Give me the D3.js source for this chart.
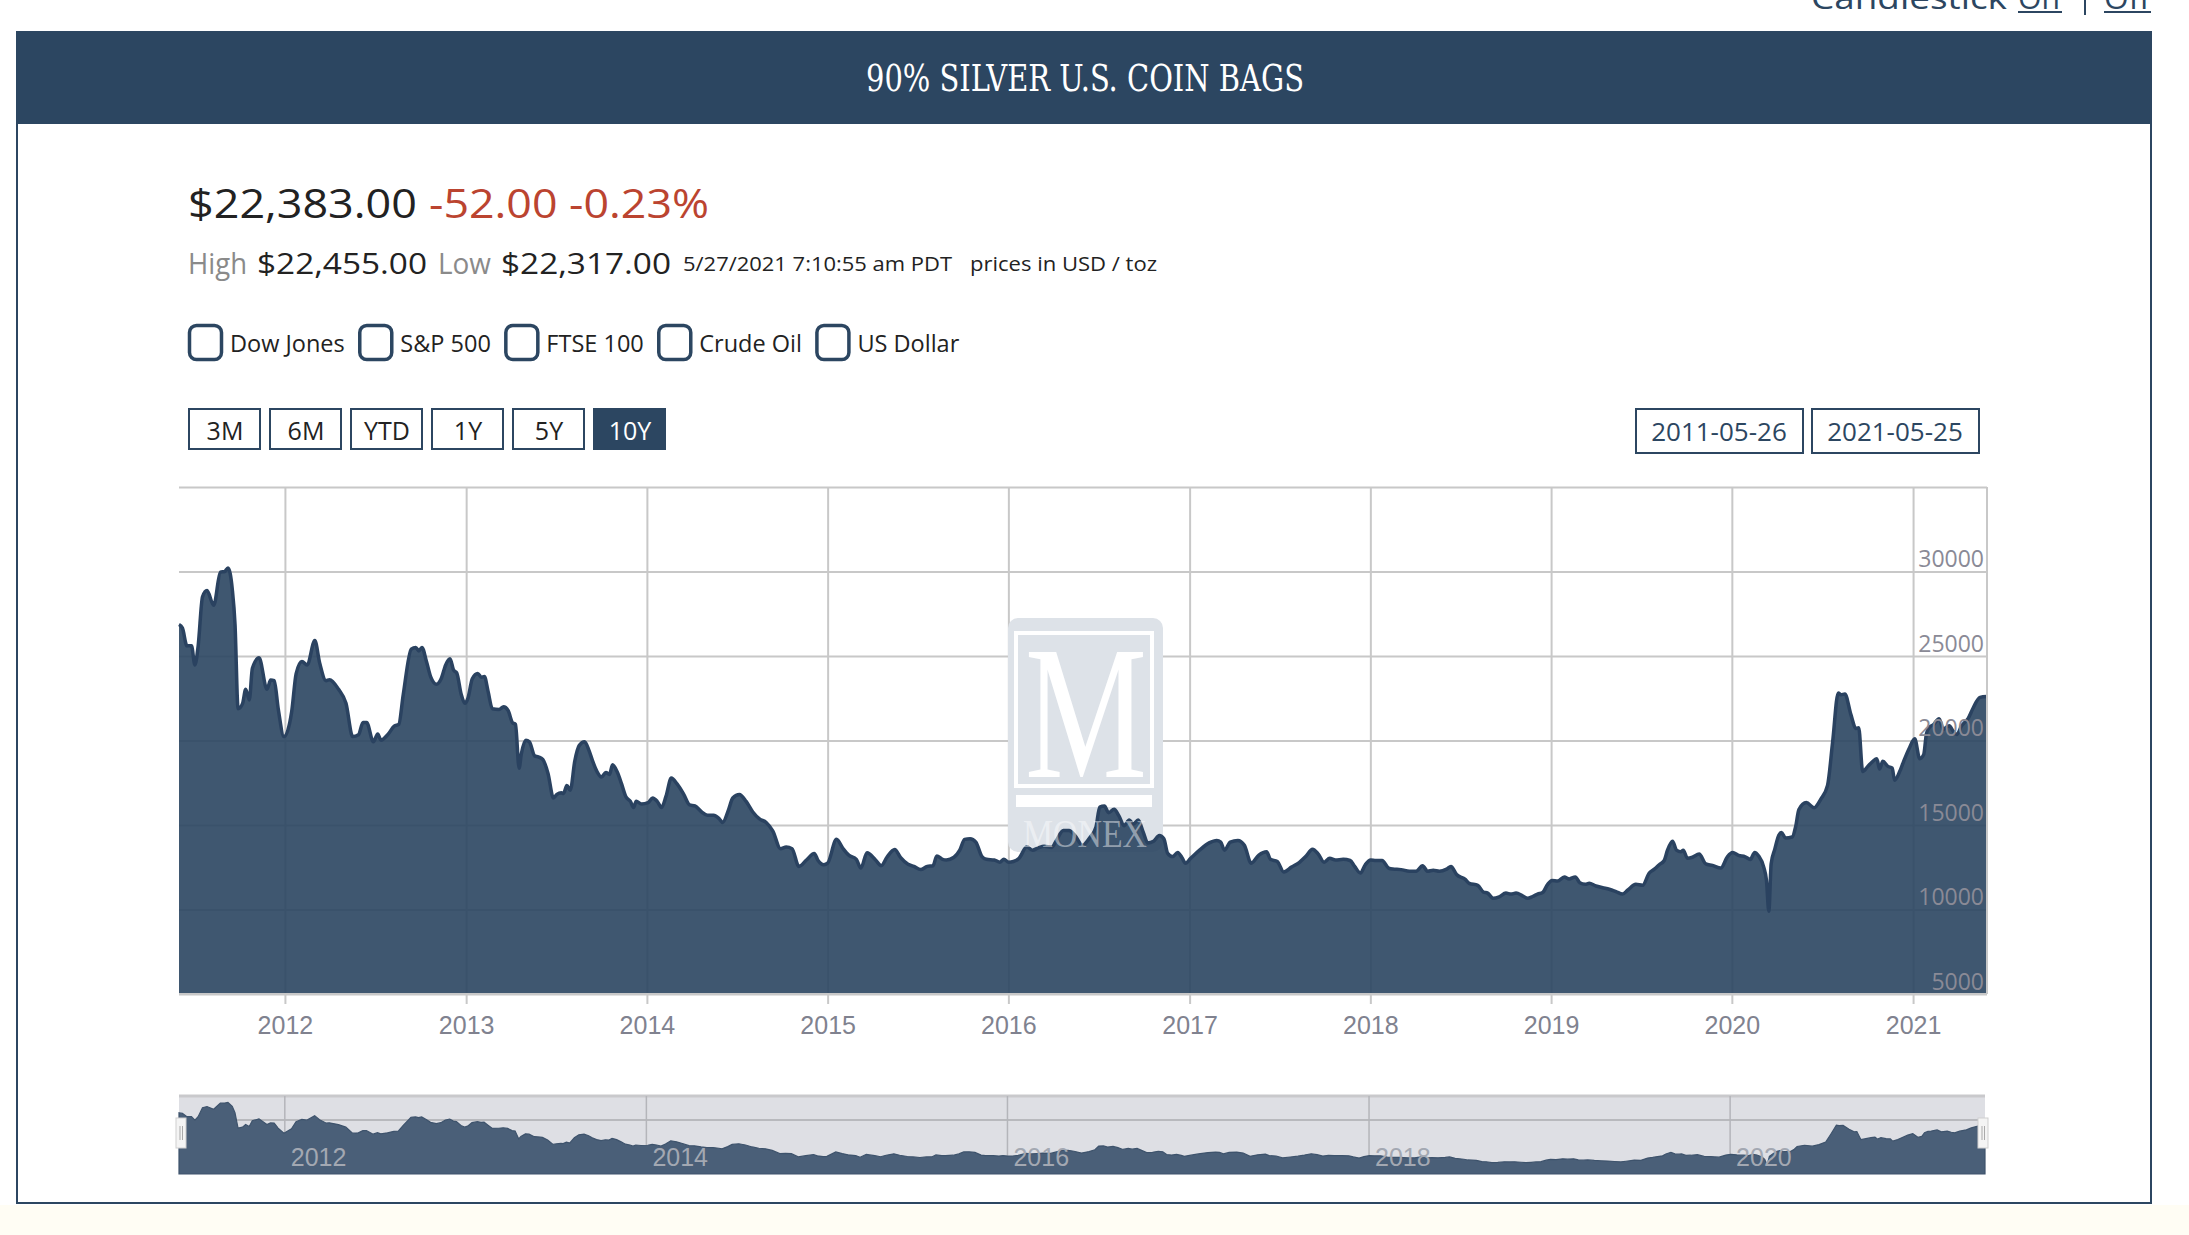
<!DOCTYPE html>
<meta charset="utf-8">
<style>
body {
  margin: 0;
  background: #fff;
  font-family: "Open Sans", sans-serif;
}
svg { display: block; }
.grid line { stroke: #c8c8c8; stroke-width: 2; }
.grid path { display: none; }
.xlabels path { display: none; }
.xlabels line { stroke: #c8c8c8; stroke-width: 2; }
.xlabels text { font-family: "Liberation Sans Narrow", sans-serif; font-size: 25px; fill: #80828f; }
.ylabels path, .ylabels line { display: none; }
.ylabels text { font-family: "Open Sans", sans-serif; font-size: 23px; fill: #8a8a96; }
</style>
<body>
<script src="https://cdn.jsdelivr.net/npm/d3@7"></script>
<script>

var width = 2189,
    height = 1235;

// price series (decimal year, USD per bag)
var years = [
  2011.414, 2011.433, 2011.458, 2011.483, 2011.502, 2011.520, 2011.544, 2011.569, 2011.606, 2011.643,
  2011.667, 2011.685, 2011.709, 2011.724, 2011.741, 2011.766, 2011.783, 2011.803, 2011.820, 2011.857,
  2011.901, 2011.921, 2011.941, 2011.963, 2011.995, 2012.037, 2012.062, 2012.094, 2012.123, 2012.165,
  2012.192, 2012.227, 2012.246, 2012.296, 2012.337, 2012.374, 2012.406, 2012.431, 2012.451, 2012.488,
  2012.512, 2012.530, 2012.567, 2012.603, 2012.628, 2012.653, 2012.697, 2012.722, 2012.739, 2012.756,
  2012.781, 2012.805, 2012.837, 2012.862, 2012.887, 2012.911, 2012.931, 2012.948, 2012.973, 2012.993,
  2013.010, 2013.034, 2013.064, 2013.084, 2013.101, 2013.121, 2013.145, 2013.182, 2013.207, 2013.232,
  2013.256, 2013.273, 2013.293, 2013.305, 2013.330, 2013.350, 2013.379, 2013.399, 2013.424, 2013.453,
  2013.483, 2013.502, 2013.527, 2013.539, 2013.557, 2013.576, 2013.601, 2013.626, 2013.655, 2013.680,
  2013.700, 2013.724, 2013.749, 2013.773, 2013.793, 2013.810, 2013.835, 2013.860, 2013.884, 2013.909,
  2013.926, 2013.941, 2013.970, 2014.007, 2014.032, 2014.057, 2014.081, 2014.106, 2014.135, 2014.167,
  2014.204, 2014.236, 2014.266, 2014.303, 2014.335, 2014.369, 2014.401, 2014.419, 2014.451, 2014.475,
  2014.512, 2014.549, 2014.586, 2014.623, 2014.660, 2014.697, 2014.739, 2014.771, 2014.803, 2014.841,
  2014.883, 2014.926, 2014.947, 2014.979, 2015.000, 2015.049, 2015.085, 2015.117, 2015.159, 2015.184,
  2015.218, 2015.265, 2015.297, 2015.328, 2015.371, 2015.403, 2015.445, 2015.477, 2015.515, 2015.551,
  2015.583, 2015.604, 2015.636, 2015.657, 2015.699, 2015.731, 2015.758, 2015.788, 2015.820, 2015.854,
  2015.879, 2015.922, 2015.953, 2015.975, 2016.002, 2016.028, 2016.059, 2016.102, 2016.133, 2016.165,
  2016.197, 2016.239, 2016.265, 2016.303, 2016.335, 2016.367, 2016.409, 2016.451, 2016.483, 2016.504,
  2016.530, 2016.553, 2016.583, 2016.610, 2016.638, 2016.667, 2016.689, 2016.716, 2016.744, 2016.769,
  2016.801, 2016.833, 2016.858, 2016.879, 2016.907, 2016.934, 2016.960, 2016.977, 2017.006, 2017.055,
  2017.108, 2017.150, 2017.172, 2017.193, 2017.225, 2017.267, 2017.303, 2017.341, 2017.383, 2017.426,
  2017.447, 2017.485, 2017.521, 2017.564, 2017.606, 2017.642, 2017.680, 2017.712, 2017.744, 2017.775,
  2017.807, 2017.850, 2017.888, 2017.913, 2017.945, 2017.972, 2018.002, 2018.031, 2018.065, 2018.101,
  2018.124, 2018.170, 2018.216, 2018.253, 2018.289, 2018.317, 2018.348, 2018.382, 2018.422, 2018.446,
  2018.477, 2018.525, 2018.547, 2018.594, 2018.625, 2018.649, 2018.680, 2018.713, 2018.750, 2018.778,
  2018.806, 2018.842, 2018.870, 2018.898, 2018.925, 2018.953, 2018.981, 2019.005, 2019.036, 2019.073,
  2019.100, 2019.134, 2019.159, 2019.189, 2019.211, 2019.248, 2019.285, 2019.322, 2019.359, 2019.395,
  2019.423, 2019.469, 2019.506, 2019.543, 2019.571, 2019.598, 2019.626, 2019.644, 2019.672, 2019.694,
  2019.718, 2019.731, 2019.755, 2019.782, 2019.819, 2019.856, 2019.893, 2019.939, 2019.976, 2020.004,
  2020.037, 2020.074, 2020.102, 2020.126, 2020.148, 2020.176, 2020.191, 2020.204, 2020.217, 2020.237,
  2020.259, 2020.274, 2020.296, 2020.333, 2020.352, 2020.370, 2020.411, 2020.454, 2020.491, 2020.528,
  2020.556, 2020.587, 2020.602, 2020.624, 2020.657, 2020.685, 2020.700, 2020.722, 2020.750, 2020.778,
  2020.800, 2020.815, 2020.833, 2020.861, 2020.885, 2020.898, 2020.926, 2020.948, 2020.981, 2021.009,
  2021.037, 2021.059, 2021.074, 2021.093, 2021.111, 2021.144, 2021.167, 2021.200, 2021.222, 2021.241,
  2021.269, 2021.306, 2021.333, 2021.370, 2021.409
];

var prices = [
  26860, 26650, 25600, 25600, 24470, 25600, 28500, 28870, 28000, 29960,
  30000, 30210, 28930, 26860, 21880, 22200, 23030, 22400, 24270, 24890,
  23030, 23580, 23540, 21880, 20230, 21680, 23960, 24680, 24470, 25920,
  24580, 23540, 23600, 23030, 22200, 20230, 20340, 21060, 21060, 19920,
  20390, 20020, 20340, 20850, 20950, 22720, 25410, 25510, 25300, 25510,
  24680, 23750, 23330, 23650, 24470, 24830, 24160, 24000, 22720, 22200,
  22510, 23650, 23960, 23750, 23790, 22920, 21880, 21840, 21990, 21780,
  21060, 20950, 18360, 19190, 20020, 19920, 19090, 19030, 18880, 18050,
  16600, 16810, 16910, 16870, 17330, 17060, 18780, 19710, 19920, 19400,
  18780, 18160, 17840, 18110, 17990, 18570, 18160, 17430, 16670, 16400,
  16040, 16400, 16250, 16330, 16600, 16400, 16040, 16710, 17780, 17430,
  16810, 16190, 16130, 15770, 15570, 15570, 15360, 15150, 15880, 16600,
  16810, 16400, 15770, 15360, 15150, 14640, 13600, 13700, 13600, 12550,
  12930, 13320, 12900, 12650, 12740, 14150, 13610, 13220, 12970, 12450,
  13360, 12930, 12600, 13090, 13550, 13090, 12680, 12550, 12360, 12550,
  12590, 13170, 12970, 12930, 13090, 13510, 14150, 14190, 13990, 13130,
  12970, 12930, 12800, 12970, 12800, 12840, 13030, 13710, 13510, 13650,
  13750, 13670, 14090, 14670, 14670, 14380, 13800, 14280, 14860, 16060,
  16120, 15730, 15930, 15540, 14960, 15290, 15060, 15290, 14580, 13940,
  14040, 14380, 14190, 13320, 13130, 13380, 13030, 12740, 13030, 13510,
  13940, 14090, 13990, 13510, 13990, 14090, 13800, 12740, 13220, 13420,
  12970, 12840, 12220, 12510, 12780, 13130, 13570, 13280, 12800, 13030,
  12930, 12970, 12900, 12550, 12160, 12650, 12930, 12900, 12900, 12450,
  12390, 12360, 12260, 12260, 12590, 12260, 12320, 12260, 12390, 12550,
  12070, 11780, 11550, 11430, 11040, 10970, 10660, 10750, 10970, 10910,
  10970, 10810, 10660, 10770, 10910, 11000, 11490, 11720, 11680, 11930,
  11810, 11930, 11580, 11490, 11550, 11390, 11290, 11200, 11060, 10910,
  11140, 11490, 11430, 12160, 12390, 12650, 12900, 13510, 14040, 13510,
  13420, 13510, 13030, 13090, 13280, 12700, 12610, 12450, 13130, 13370,
  13200, 13120, 12960, 13370, 13160, 12510, 11730, 9900, 12710, 13570,
  14390, 14550, 14230, 14290, 14900, 15920, 16330, 16020, 16530, 17340,
  19900, 22810, 22710, 22750, 21530, 20710, 20750, 18160, 18470, 18770,
  18920, 18310, 18770, 18470, 18370, 17650, 18160, 18770, 19590, 20100,
  18920, 19180, 20410, 20820, 20920, 21280, 20670, 20880, 20550, 20350,
  20880, 21330, 21940, 22550, 22600
];

var yTicks = [5000, 10000, 15000, 20000, 25000, 30000];
var yGrid = [5000, 10000, 15000, 20000, 25000, 30000, 35000];
var compareWith = ["Dow Jones", "S&P 500", "FTSE 100", "Crude Oil", "US Dollar"];
var rangeButtons = ["3M", "6M", "YTD", "1Y", "5Y", "10Y"];
var selectedRange = "10Y";
var rangeDates = ["2011-05-26", "2021-05-25"];

var navy = "#2c4661";

function toDate(y) {
  var yr = Math.floor(y),
      a = new Date(yr, 0, 1),
      b = new Date(yr + 1, 0, 1);
  return new Date(+a + (y - yr) * (b - a));
}

var data = years.map(function(y, i) {
  return {date: toDate(y), price: prices[i]};
});

var svg = d3.select("body").append("svg")
    .attr("width", width)
    .attr("height", height);

// page + card
svg.append("rect").attr("x", 0).attr("y", 1205).attr("width", width).attr("height", 30).attr("fill", "#fffdf4");
svg.append("rect")
    .attr("x", 17).attr("y", 32).attr("width", 2134).attr("height", 1171)
    .attr("fill", "#fff").attr("stroke", navy).attr("stroke-width", 2);
svg.append("rect")
    .attr("x", 17).attr("y", 32).attr("width", 2134).attr("height", 92)
    .attr("fill", navy);

function label(x, y, txt, size, color, len, anchor) {
  var t = svg.append("text")
      .attr("x", x).attr("y", y)
      .attr("font-size", size)
      .attr("fill", color)
      .attr("text-anchor", anchor || "start")
      .text(txt);
  if (len) t.attr("textLength", len).attr("lengthAdjust", "spacingAndGlyphs");
  return t;
}

label(1085, 91, "90% SILVER U.S. COIN BAGS", 38, "#fff", 438, "middle")
    .attr("font-family", "'DejaVu Serif Condensed', 'DejaVu Serif', serif")
    .attr("font-stretch", "condensed");

// cut-off candlestick toggle top right
label(1811, 9, "Candlestick", 31, navy, 196);
label(2018, 9, "On", 31, navy, 42);
svg.append("line").attr("x1", 2085).attr("x2", 2085).attr("y1", 0).attr("y2", 15).attr("stroke", navy).attr("stroke-width", 2);
label(2104, 9, "Off", 31, navy, 46);
svg.append("line").attr("x1", 2018).attr("x2", 2062).attr("y1", 12).attr("y2", 12).attr("stroke", navy).attr("stroke-width", 2);
svg.append("line").attr("x1", 2104).attr("x2", 2151).attr("y1", 12).attr("y2", 12).attr("stroke", navy).attr("stroke-width", 2);

// quote lines
label(188, 218, "$22,383.00", 40, "#222", 229);
label(429, 218, "-52.00 -0.23%", 40, "#bb4430", 280);
label(188, 274, "High", 29, "#8a8a8a", 59);
label(257, 274, "$22,455.00", 30, "#222", 170);
label(438, 274, "Low", 29, "#8a8a8a", 53);
label(501, 274, "$22,317.00", 30, "#222", 170);
label(683, 271, "5/27/2021 7:10:55 am PDT", 20.5, "#222", 269);
label(970, 271, "prices in USD / toz", 20.5, "#222", 187);

// compare checkboxes, flowed by label width
var cx = 188;
compareWith.forEach(function(name) {
  svg.append("rect")
      .attr("x", cx + 1.5).attr("y", 325.5).attr("width", 32).attr("height", 34).attr("rx", 7)
      .attr("fill", "#fff").attr("stroke", navy).attr("stroke-width", 3.5);
  var t = label(cx + 42, 352, name, 23.5, "#222");
  cx += 42 + t.node().getComputedTextLength() + 13.5;
});

// range buttons
rangeButtons.forEach(function(b, i) {
  var bx = 188 + i * 81,
      on = b === selectedRange;
  svg.append("rect")
      .attr("x", bx + 1).attr("y", 409).attr("width", 71).attr("height", 40)
      .attr("fill", on ? navy : "#fff").attr("stroke", navy).attr("stroke-width", 2);
  label(bx + 37, 440, b, 25, on ? "#fff" : "#222", null, "middle");
});

rangeDates.forEach(function(d, i) {
  var bx = 1635 + i * 176;
  svg.append("rect")
      .attr("x", bx + 1).attr("y", 409).attr("width", 167).attr("height", 44)
      .attr("fill", "#fff").attr("stroke", navy).attr("stroke-width", 2);
  label(bx + 84, 441, d, 26, navy, null, "middle");
});

// main plot
var plotLeft = 179, plotRight = 1987, plotTop = 487, plotBottom = 994;

var x = d3.scaleTime()
    .domain([toDate(years[0]), toDate(years[years.length - 1])])
    .range([plotLeft, plotRight]);

var y = d3.scaleLinear()
    .domain([5000, 35000])
    .range([plotBottom, plotTop]);

svg.append("g")
    .attr("class", "grid")
    .attr("transform", "translate(0," + plotBottom + ")")
    .call(d3.axisBottom(x).ticks(d3.timeYear.every(1)).tickSize(-(plotBottom - plotTop)).tickFormat(""));

svg.append("g")
    .attr("class", "grid")
    .attr("transform", "translate(" + plotRight + ",0)")
    .call(d3.axisLeft(y).tickValues(yGrid).tickSize(plotRight - plotLeft).tickFormat(""));

// Monex watermark (under the area)
var logo = svg.append("g").attr("transform", "translate(1008,618)");
logo.append("rect").attr("width", 155).attr("height", 234).attr("rx", 10).attr("fill", "#dde2e8");
logo.append("rect").attr("x", 8).attr("y", 15).attr("width", 136).attr("height", 153)
    .attr("fill", "none").attr("stroke", "#fff").attr("stroke-width", 4);
logo.append("text").attr("x", 17).attr("y", 159).attr("font-size", 190)
    .attr("font-family", "'Liberation Serif', serif").attr("fill", "#fff")
    .attr("textLength", 122).attr("lengthAdjust", "spacingAndGlyphs").text("M");
logo.append("rect").attr("x", 8).attr("y", 177).attr("width", 136).attr("height", 12).attr("fill", "#fff");

var area = d3.area()
    .x(function(d) { return x(d.date); })
    .y0(plotBottom)
    .y1(function(d) { return y(d.price); })
    .curve(d3.curveMonotoneX);

var line = d3.line()
    .x(function(d) { return x(d.date); })
    .y(function(d) { return y(d.price); })
    .curve(d3.curveMonotoneX);

svg.append("path")
    .datum(data)
    .attr("d", area)
    .attr("fill", "#2a4561")
    .attr("fill-opacity", 0.9);

svg.append("path")
    .datum(data)
    .attr("d", line)
    .attr("fill", "none")
    .attr("stroke", "#2a4260")
    .attr("stroke-width", 3.5)
    .attr("stroke-linejoin", "round");

// watermark word shows faintly through the series
svg.append("text").attr("x", 1023).attr("y", 847).attr("font-size", 40)
    .attr("font-family", "'Liberation Serif', serif").attr("fill", "#fff").attr("fill-opacity", 0.45)
    .attr("textLength", 124).attr("lengthAdjust", "spacingAndGlyphs").text("MONEX");

var yl = svg.append("g")
    .attr("class", "ylabels")
    .attr("transform", "translate(" + (plotRight - 3) + ",0)")
    .call(d3.axisLeft(y).tickValues(yTicks).tickSize(0).tickPadding(0).tickFormat(d3.format("d")));
yl.selectAll("text").attr("dy", -5);

svg.append("line").attr("x1", plotRight).attr("x2", plotRight).attr("y1", plotTop).attr("y2", plotBottom)
    .attr("stroke", "#c8c8c8").attr("stroke-width", 2);

var xl = svg.append("g")
    .attr("class", "xlabels")
    .attr("transform", "translate(0," + plotBottom + ")")
    .call(d3.axisBottom(x).ticks(d3.timeYear.every(1)).tickSize(10).tickPadding(6).tickFormat(d3.timeFormat("%Y")));
xl.selectAll("text").attr("dy", "0.95em");
svg.append("line").attr("x1", plotLeft).attr("x2", plotRight).attr("y1", plotBottom).attr("y2", plotBottom)
    .attr("stroke", "#c8c8c8").attr("stroke-width", 2);

// navigator
var nTop = 1096, nBottom = 1174, nRight = 1985;

var nx = d3.scaleTime()
    .domain(x.domain())
    .range([plotLeft, nRight]);

var ny = d3.scaleLinear()
    .domain([7000, 31000])
    .range([nBottom, nTop + 4]);

svg.append("rect")
    .attr("x", plotLeft).attr("y", nTop).attr("width", nRight - plotLeft).attr("height", nBottom - nTop)
    .attr("fill", "#dedfe4");
svg.append("line").attr("x1", plotLeft).attr("x2", nRight).attr("y1", nTop).attr("y2", nTop)
    .attr("stroke", "#c9c9cc").attr("stroke-width", 3);
svg.append("line").attr("x1", plotLeft).attr("x2", nRight).attr("y1", 1120).attr("y2", 1120)
    .attr("stroke", "#b8b9bd").attr("stroke-width", 2);

var nTicks = nx.ticks(d3.timeYear.every(2));
svg.append("g").selectAll("line")
    .data(nTicks)
  .enter().append("line")
    .attr("x1", function(d) { return nx(d); })
    .attr("x2", function(d) { return nx(d); })
    .attr("y1", nTop).attr("y2", nBottom)
    .attr("stroke", "#b4b5ba").attr("stroke-width", 1.5);

var nArea = d3.area()
    .x(function(d) { return nx(d.date); })
    .y0(nBottom)
    .y1(function(d) { return ny(d.price); });

svg.append("path")
    .datum(data)
    .attr("d", nArea)
    .attr("fill", "#4a5f78")
    .attr("stroke", "#3e536c")
    .attr("stroke-width", 1.2);

svg.append("g").selectAll("text")
    .data(nTicks)
  .enter().append("text")
    .attr("x", function(d) { return nx(d) + 6; })
    .attr("y", 1166)
    .attr("font-family", "'Liberation Sans Narrow', sans-serif")
    .attr("font-size", 25)
    .attr("fill", "#a3a8b2")
    .text(d3.timeFormat("%Y"));

[plotLeft - 3, nRight - 7].forEach(function(hx) {
  var h = svg.append("g").attr("transform", "translate(" + hx + ",1118)");
  h.append("rect").attr("width", 10).attr("height", 30).attr("fill", "#f4f4f4").attr("stroke", "#cfcfcf").attr("stroke-width", 1);
  h.append("line").attr("x1", 4).attr("x2", 4).attr("y1", 8).attr("y2", 22).attr("stroke", "#aaa");
  h.append("line").attr("x1", 6.5).attr("x2", 6.5).attr("y1", 8).attr("y2", 22).attr("stroke", "#aaa");
});

</script>
